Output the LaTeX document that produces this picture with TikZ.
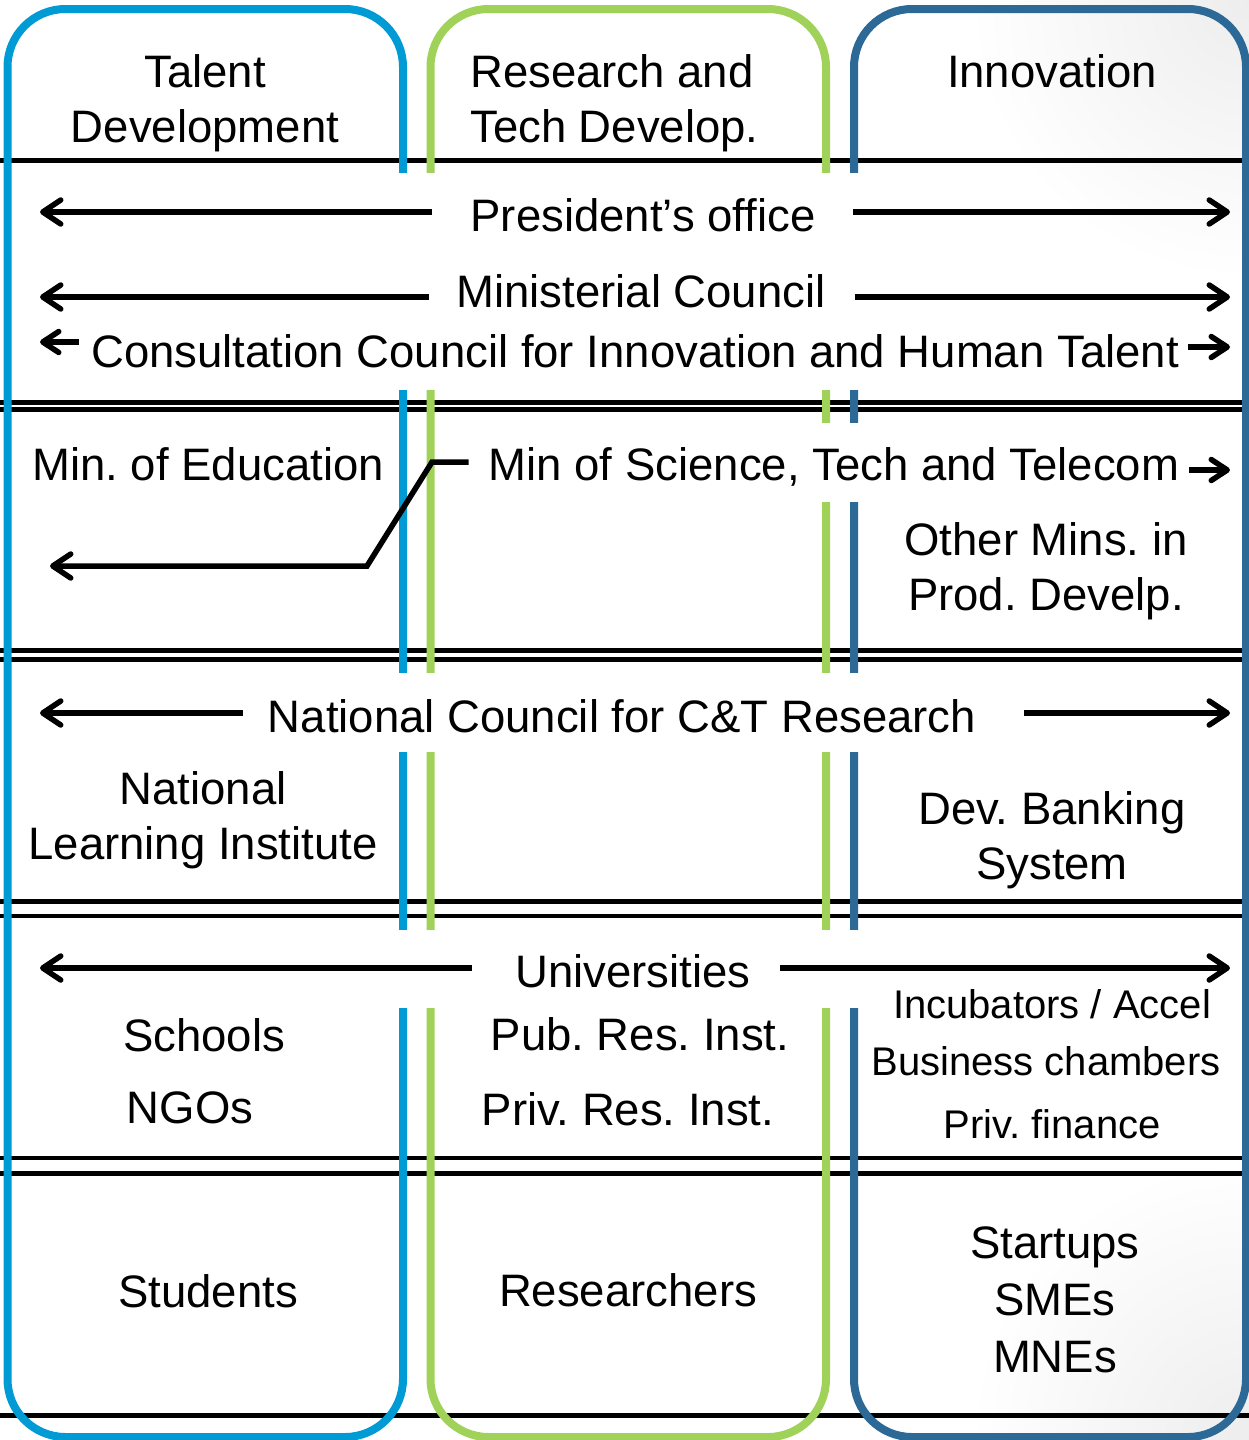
\documentclass[tikz,border=0pt]{standalone}
\usepackage{fontspec}
\setmainfont{Liberation Sans}
\frenchspacing
\usetikzlibrary{arrows.meta, calc}
\definecolor{talentColor}{RGB}{0,155,213}
\definecolor{researchColor}{RGB}{160,210,90}
\definecolor{innovColor}{RGB}{44,105,150}
\colorlet{shadeColor}{black!7}
\tikzstyle{column}=[line width=8pt, rounded corners=58pt]
\tikzstyle{sep}=[line width=5pt, draw=black]
\tikzstyle{dsep}=[line width=4.5pt, draw=black]
\tikzstyle{arrow}=[-{Straight Barb[length=18pt,width=24pt,round]}, line width=5.5pt, draw=black]
\tikzstyle{sarrow}=[-{Straight Barb[length=16pt,width=21pt,round]}, line width=5.5pt, draw=black]
\tikzstyle{lbl}=[font=\fontsize{45.5}{55}\selectfont, inner sep=0pt, anchor=base]
\tikzstyle{small}=[font=\fontsize{40}{50}\selectfont, inner sep=0pt, anchor=base]

\begin{document}
\begin{tikzpicture}[x=1pt, y=-1pt]
  \useasboundingbox (0,0) rectangle (1249,1440);
  \begin{scope}
    \clip (0,0) rectangle (1249,1440);
    \shade[inner color=shadeColor, outer color=white] (1249,0) circle (280);
    \shade[inner color=shadeColor, outer color=white] (1249,1440) circle (280);
  \end{scope}

  % level separators
  \draw[sep] (0,160.5) -- (1249,160.5);
  \foreach \y in {402.5, 409.5, 650.5, 659.5, 901.5, 916, 1158, 1173.5}
    \draw[dsep] (0,\y) -- (1249,\y);
  \draw[sep] (0,1415) -- (1249,1415);

  % the three columns
  \draw[column, talentColor] (7.5,9) rectangle (403,1437);
  \draw[column, researchColor] (430.5,9) rectangle (826,1437);
  \draw[column, innovColor] (854,9) rectangle (1246,1437);
  \fill[white] (396,173) rectangle (862,390);
  \fill[white] (815,423) rectangle (862,502);
  \fill[white] (396,673) rectangle (862,752);
  \fill[white] (396,930) rectangle (862,1008);

  % headers (multi-line nodes sit on their last baseline)
  \node (talent) [lbl, align=center] at (205,142) {Talent\\Development};
  \node (research) [lbl, align=left, anchor=base west] at (470,142) {Research and\\Tech Develop.};
  \node (innov) [lbl] at (1052,87) {Innovation};

  % government level
  \node (pres) [lbl] at (643,231) {President’s office};
  \node (minc) [lbl] at (641,307) {Ministerial Council};
  \node (cons) [lbl] at (635,367) {Consultation Council for Innovation and Human Talent};
  \coordinate (presL) at (40,212);
  \coordinate (presR) at (1230,212);
  \coordinate (mincL) at (40,297);
  \coordinate (mincR) at (1230,297);
  \coordinate (consL) at (40,342);
  \coordinate (consR) at (1230,347);
  \draw[arrow] ($(pres.west |- presL)+(-38,0)$) -- (presL);
  \draw[arrow] ($(pres.east |- presR)+(37,0)$) -- (presR);
  \draw[arrow] ($(minc.west |- mincL)+(-27,0)$) -- (mincL);
  \draw[arrow] ($(minc.east |- mincR)+(29,0)$) -- (mincR);
  \draw[sarrow] ($(cons.west |- consL)+(-12,0)$) -- (consL);
  \draw[sarrow] ($(cons.east |- consR)+(9,0)$) -- (consR);

  % ministries
  \node (edu) [lbl] at (208,480) {Min. of Education};
  \node (mst) [lbl] at (834,480) {Min of Science, Tech and Telecom};
  \node (others) [lbl, align=center] at (1046,610) {Other Mins. in\\Prod. Develp.};
  \coordinate (mstBendA) at (432,462);
  \coordinate (mstBendB) at (367,566);
  \coordinate (eduL) at (50,566);
  \coordinate (mstR) at (1230,470);
  \draw[arrow] ($(mst.west |- mstBendA)+(-20,0)$) -- (mstBendA) -- (mstBendB) -- (eduL);
  \draw[sarrow] ($(mst.east |- mstR)+(10,0)$) -- (mstR);

  % agencies
  \node (ncr) [lbl] at (622,732) {National Council for C\&T Research};
  \node (nli) [lbl, align=center] at (203,859) {National\\Learning Institute};
  \node (bank) [lbl, align=center] at (1052,879) {Dev. Banking\\System};
  \coordinate (ncrL) at (40,713);
  \coordinate (ncrR) at (1230,713);
  \draw[arrow] ($(ncr.west |- ncrL)+(-25,0)$) -- (ncrL);
  \draw[arrow] ($(ncr.east |- ncrR)+(48,0)$) -- (ncrR);

  % institutions
  \node (univ) [lbl] at (633,987) {Universities};
  \node (schools) [lbl] at (204,1051) {Schools};
  \node (ngos) [lbl] at (190,1123) {NGOs};
  \node (pubres) [lbl] at (640,1050) {Pub. Res. Inst.};
  \node (privres) [lbl] at (628,1125) {Priv. Res. Inst.};
  \node (incub) [small] at (1052,1018) {Incubators / Accel};
  \node (chamb) [small] at (1046,1075) {Business chambers};
  \node (fin) [small] at (1052,1138) {Priv. finance};
  \coordinate (univL) at (40,968);
  \coordinate (univR) at (1230,968);
  \draw[arrow] ($(univ.west |- univL)+(-43,0)$) -- (univL);
  \draw[arrow] ($(univ.east |- univR)+(29,0)$) -- (univR);

  % individuals
  \node (stud) [lbl] at (208,1307) {Students};
  \node (resr) [lbl] at (628,1306) {Researchers};
  \node (firms) [lbl, align=center, font=\fontsize{45.5}{57}\selectfont] at (1055,1372) {Startups\\SMEs\\MNEs};
\end{tikzpicture}
\end{document}
